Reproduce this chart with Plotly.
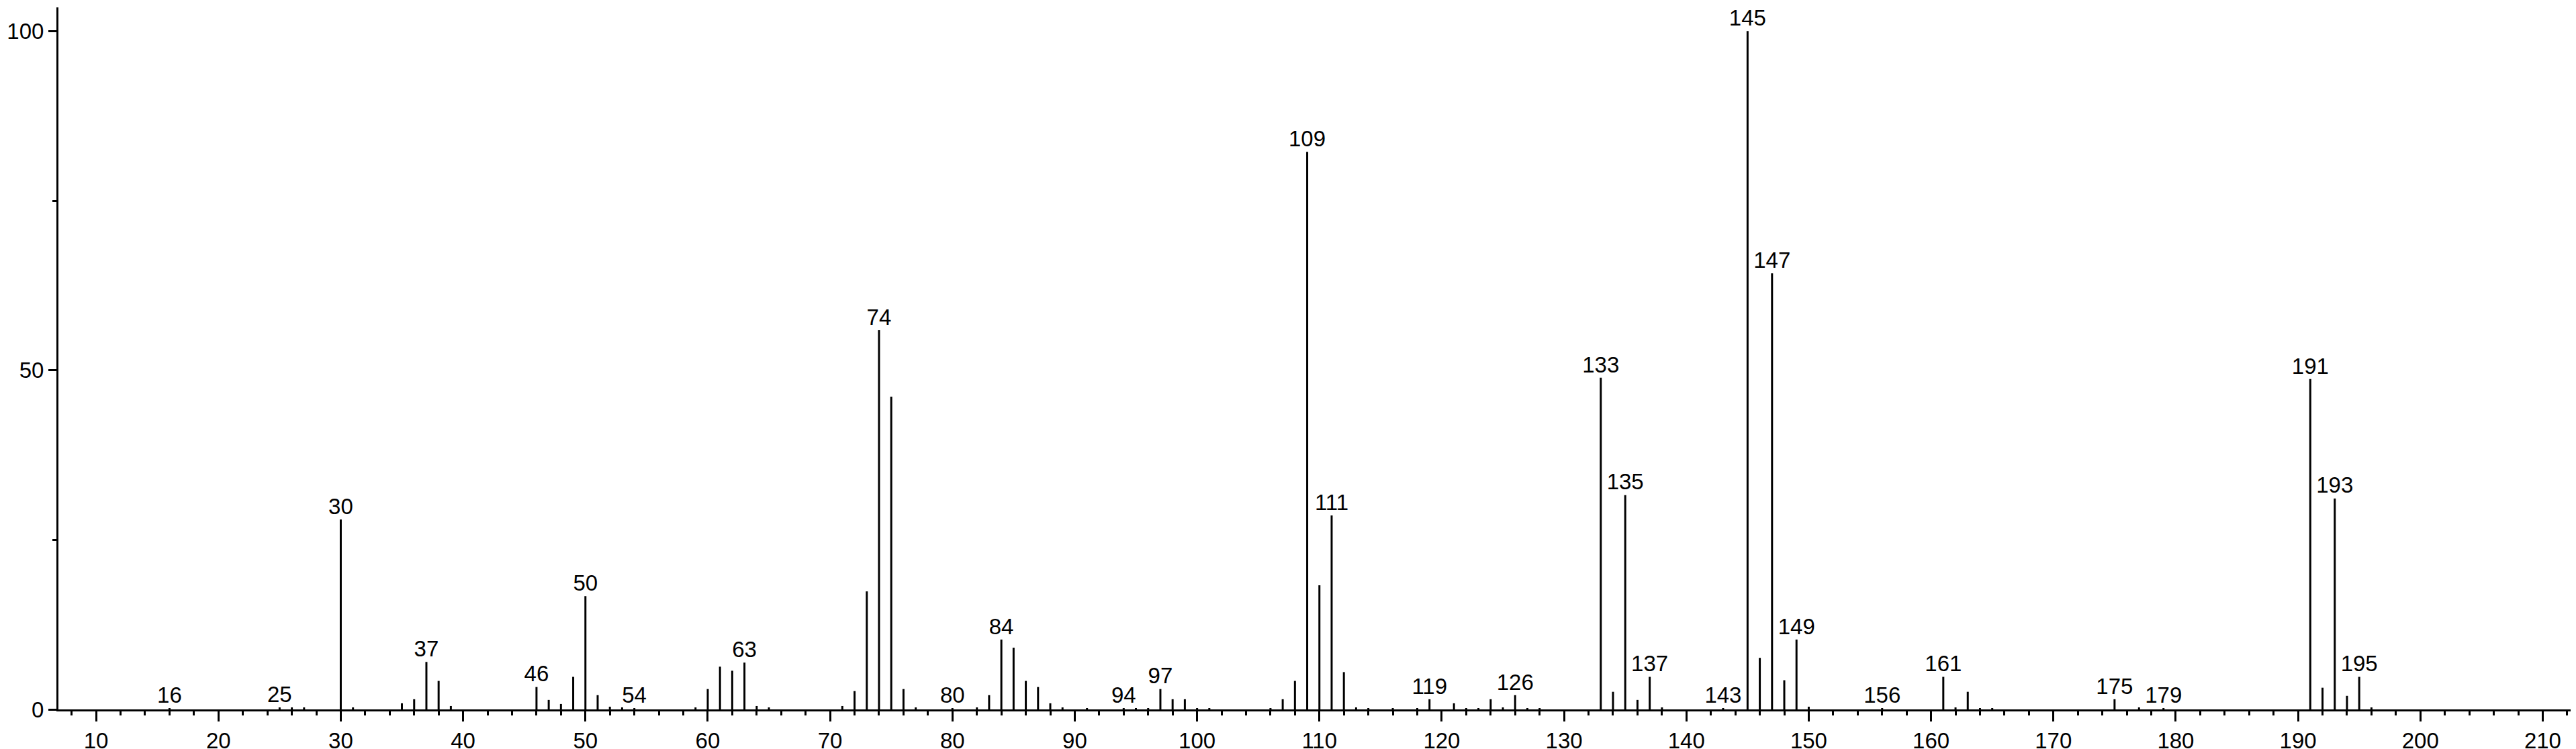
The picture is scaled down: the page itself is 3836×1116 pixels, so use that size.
import plotly.graph_objects as go

# m/z values and relative intensities (%)
mz = [16, 25, 26, 27, 30, 31, 35, 36, 37, 38, 39,
      46, 47, 48, 49, 50, 51, 52, 53, 54,
      59, 60, 61, 62, 63, 64, 65,
      71, 72, 73, 74, 75, 76, 77, 80, 82, 83, 84, 85, 86, 87, 88, 89,
      91, 94, 95, 96, 97, 98, 99, 100, 101,
      106, 107, 108, 109, 110, 111, 112, 113, 114, 116, 118, 119,
      121, 122, 123, 124, 125, 126, 127, 128,
      133, 134, 135, 136, 137, 138, 143, 145, 146, 147, 148, 149, 150,
      156, 161, 162, 163, 164, 165, 175, 177, 179,
      191, 192, 193, 194, 195, 196]
intensity = [0.2, 0.3, 0.3, 0.3, 28.0, 0.3, 0.9, 1.5, 7.0, 4.2, 0.5,
             3.3, 1.4, 0.8, 4.8, 16.7, 2.1, 0.4, 0.3, 0.2,
             0.3, 3.0, 6.3, 5.7, 6.9, 0.5, 0.3,
             0.5, 2.7, 17.4, 55.9, 46.1, 3.0, 0.3, 0.2, 0.3, 2.1, 10.3, 9.1, 4.2, 3.3, 0.9, 0.3,
             0.2, 0.2, 0.2, 0.2, 3.0, 1.5, 1.5, 0.2, 0.2,
             0.2, 1.5, 4.2, 82.2, 18.3, 28.6, 5.5, 0.3, 0.2, 0.2, 0.2, 1.5,
             0.9, 0.2, 0.2, 1.5, 0.3, 2.1, 0.2, 0.2,
             48.9, 2.6, 31.6, 1.4, 4.8, 0.3, 0.2, 100.0, 7.6, 64.3, 4.3, 10.3, 0.4,
             0.2, 4.8, 0.3, 2.6, 0.2, 0.2, 1.5, 0.3, 0.2,
             48.7, 3.2, 31.1, 2.0, 4.8, 0.3]

labeled_mz = [16, 25, 30, 37, 46, 50, 54, 63, 74, 80, 84, 94, 97, 109, 111,
              119, 126, 133, 135, 137, 143, 145, 147, 149, 156, 161, 175,
              179, 191, 193, 195]

x_ticks = [10, 20, 30, 40, 50, 60, 70, 80, 90, 100, 110, 120, 130, 140,
           150, 160, 170, 180, 190, 200, 210]
y_ticks = [0, 50, 100]

FONT = "Liberation Sans, Arial, Helvetica, sans-serif"

# build stick segments
sx, sy = [], []
for m, v in zip(mz, intensity):
    sx += [m, m, None]
    sy += [0, v, None]

lookup = dict(zip(mz, intensity))
lx = labeled_mz
ly = [lookup[m] for m in labeled_mz]

fig = go.Figure()
fig.add_trace(go.Scatter(x=sx, y=sy, mode="lines",
                         line=dict(color="black", width=3),
                         hoverinfo="skip", showlegend=False))
fig.add_trace(go.Scatter(x=lx, y=ly, mode="text", text=[str(m) for m in lx],
                         textposition="top center",
                         textfont=dict(family=FONT, size=33, color="black"),
                         showlegend=False))

fig.update_layout(
    width=3836, height=1116,
    margin=dict(l=69, r=2, t=3, b=57),
    paper_bgcolor="white", plot_bgcolor="white",
    font=dict(family=FONT, size=33, color="black"),
    showlegend=False,
)
fig.update_xaxes(range=[6.92, 213.05], tickvals=x_ticks,
                 ticktext=[str(t) for t in x_ticks],
                 ticks="outside", ticklen=15, tickwidth=3, tickcolor="black",
                 minor=dict(dtick=2, tick0=0, ticks="outside", ticklen=6,
                            tickwidth=3, tickcolor="black", showgrid=False),
                 showline=True, linecolor="black", linewidth=3,
                 showgrid=False, zeroline=False,
                 tickfont=dict(family=FONT, size=33, color="black"))
fig.update_yaxes(range=[0, 103.5], tickvals=y_ticks,
                 ticktext=[str(t) for t in y_ticks],
                 ticks="outside", ticklen=12, tickwidth=3, tickcolor="black",
                 minor=dict(dtick=25, tick0=0, ticks="outside", ticklen=6,
                            tickwidth=3, tickcolor="black", showgrid=False),
                 showline=True, linecolor="black", linewidth=3,
                 showgrid=False, zeroline=False,
                 tickfont=dict(family=FONT, size=33, color="black"))

fig.write_html("out.html")
